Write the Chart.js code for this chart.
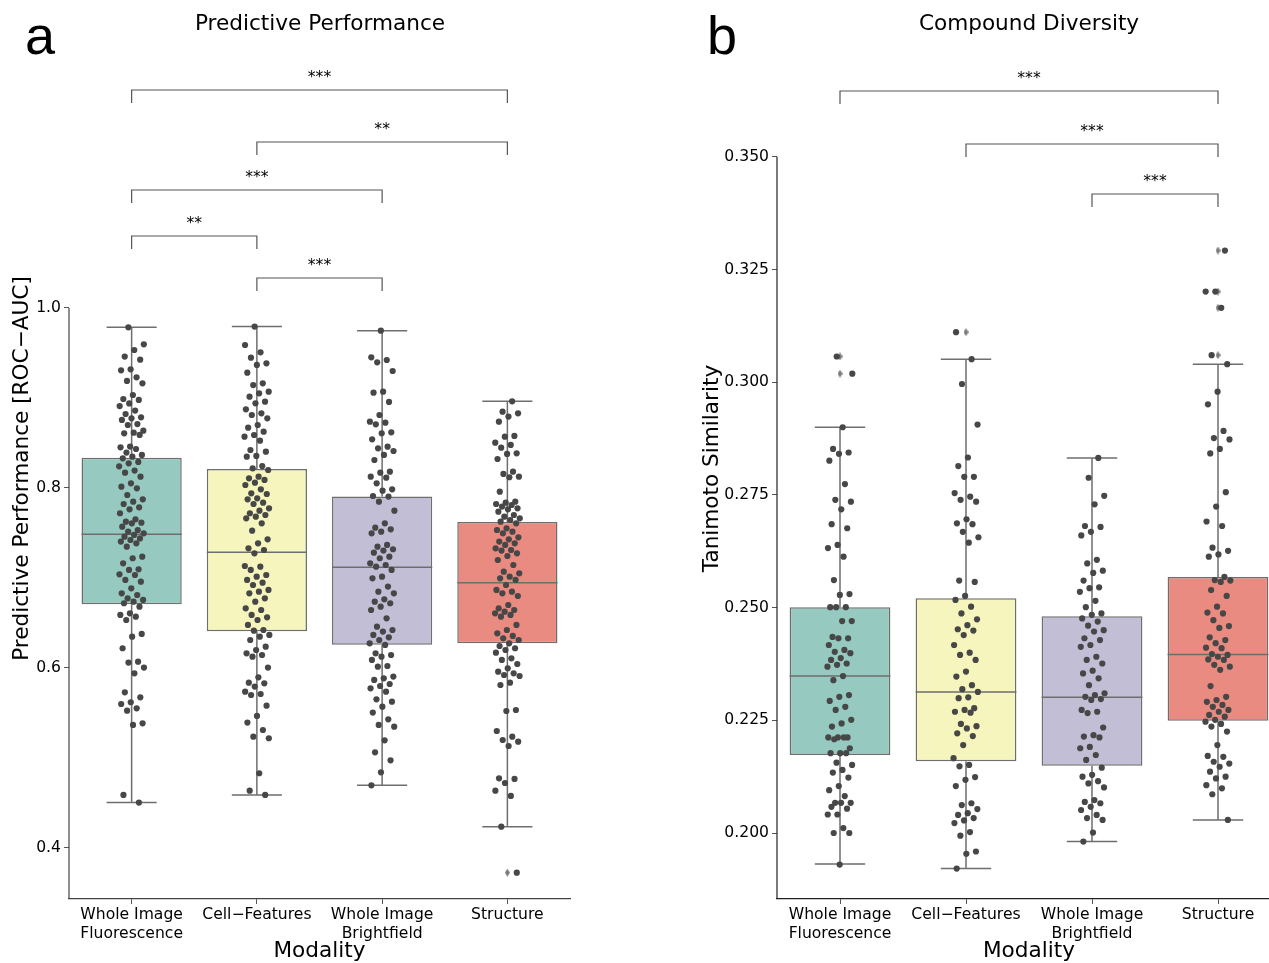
<!DOCTYPE html>
<html>
<head>
<meta charset="utf-8">
<script src="https://cdn.jsdelivr.net/npm/chart.js@4.4.1/dist/chart.umd.min.js"></script>
<style>
	html, body { margin: 0; padding: 0; background: #fff; overflow: hidden; }
	#wrap { position: relative; width: 1269px; height: 963px; overflow: hidden; }
	canvas { position: absolute; top: 0; }
	#panelA { left: 0; }
	#panelB { left: 640px; }
</style>
</head>
<body>
<div id="wrap">
	<canvas id="panelA" width="640" height="963"></canvas>
	<canvas id="panelB" width="778" height="963"></canvas>
</div>
<script type="text/javascript">
	/*jshint esversion: 6 */
	var modalities = [['Whole Image', 'Fluorescence'], 'Cell\u2212Features', ['Whole Image', 'Brightfield'], 'Structure'];

	// ---- a: predictive performance (ROC-AUC) ----
	var aTicks = [0.4, 0.6, 0.8, 1.0];
	var aQ1 = [0.6708, 0.6408, 0.6259, 0.6274];
	var aMedian = [0.7486, 0.7286, 0.7119, 0.6948];
	var aQ3 = [0.8337, 0.8210, 0.7904, 0.7622];
	var aWhiskerLow = [0.4504, 0.4589, 0.4696, 0.4237];
	var aWhiskerHigh = [0.9785, 0.9793, 0.9748, 0.8963];
	var aFlierCat = [3];
	var aFlierVal = [0.3726];

	var aFluorescence = [
		0.9785, 0.9596, 0.9533, 0.946, 0.9426, 0.9319, 0.9307, 0.923, 0.919, 0.9163, 0.9033, 0.8989, 0.8978,
		0.894, 0.891, 0.886, 0.8822, 0.8785, 0.8774, 0.8756, 0.871, 0.87, 0.8637, 0.8615, 0.8607, 0.859, 0.846,
		0.8452, 0.8433, 0.8393, 0.8367, 0.8348, 0.833, 0.829, 0.8274, 0.8241, 0.8193, 0.817, 0.8126, 0.8052,
		0.8015, 0.7996, 0.7922, 0.7874, 0.7848, 0.7822, 0.7785, 0.7763, 0.7719, 0.7652, 0.7626, 0.7615, 0.7607,
		0.757, 0.7533, 0.7515, 0.7496, 0.7478, 0.7459, 0.744, 0.7422, 0.7405, 0.7385, 0.7348, 0.7237, 0.7219,
		0.7163, 0.7096, 0.7089, 0.7041, 0.7033, 0.6978, 0.6959, 0.6885, 0.683, 0.6811, 0.6774, 0.6756, 0.6737,
		0.6719, 0.6681, 0.6607, 0.6589, 0.657, 0.6533, 0.6378, 0.6348, 0.6219, 0.607, 0.606, 0.6004, 0.5941,
		0.573, 0.5674, 0.5619, 0.56, 0.5552, 0.5526, 0.5385, 0.5367, 0.4589, 0.4504
	];
	var aCellFeatures = [
		0.9793, 0.9589, 0.9507, 0.9448, 0.9385, 0.9367, 0.9281, 0.9163, 0.9144, 0.907, 0.9052, 0.9015, 0.8959,
		0.8941, 0.8874, 0.883, 0.8811, 0.8774, 0.87, 0.867, 0.8626, 0.8589, 0.857, 0.8526, 0.8422, 0.8404,
		0.8356, 0.8348, 0.8244, 0.8219, 0.82, 0.8126, 0.8107, 0.8089, 0.8059, 0.8033, 0.7985, 0.7941, 0.7933,
		0.7885, 0.7874, 0.7837, 0.7822, 0.7774, 0.7748, 0.7719, 0.77, 0.7681, 0.7663, 0.7607, 0.7526, 0.743,
		0.7385, 0.733, 0.7311, 0.7274, 0.7133, 0.7126, 0.7089, 0.7033, 0.7015, 0.6978, 0.6948, 0.6922, 0.6867,
		0.6848, 0.683, 0.6774, 0.6737, 0.6663, 0.6644, 0.6589, 0.6563, 0.6533, 0.6478, 0.6422, 0.6415, 0.6367,
		0.6348, 0.6311, 0.6237, 0.62, 0.6163, 0.6144, 0.6126, 0.6004, 0.5896, 0.5837, 0.583, 0.5793, 0.5737,
		0.5711, 0.57, 0.5581, 0.5467, 0.5393, 0.5311, 0.5237, 0.5219, 0.483, 0.4637, 0.4589
	];
	var aBrightfield = [
		0.9748, 0.9452, 0.9422, 0.9396, 0.93, 0.907, 0.9059, 0.8956, 0.8811, 0.8737, 0.8726, 0.8707, 0.8619,
		0.8607, 0.8541, 0.8459, 0.8441, 0.8411, 0.8367, 0.8311, 0.8181, 0.817, 0.8126, 0.8115, 0.8052, 0.7985,
		0.797, 0.7911, 0.7904, 0.7848, 0.7748, 0.7607, 0.7559, 0.7541, 0.7515, 0.7496, 0.7367, 0.7348, 0.7319,
		0.7304, 0.7281, 0.7237, 0.7219, 0.7163, 0.7144, 0.7126, 0.7089, 0.7015, 0.6996, 0.6904, 0.6848, 0.683,
		0.6763, 0.6737, 0.6719, 0.6681, 0.6644, 0.6552, 0.6459, 0.6422, 0.6404, 0.6367, 0.6341, 0.6311, 0.6274,
		0.6256, 0.6163, 0.6144, 0.6126, 0.6089, 0.6022, 0.6015, 0.5904, 0.5885, 0.5867, 0.5822, 0.58, 0.5774,
		0.5737, 0.5652, 0.5626, 0.557, 0.5504, 0.543, 0.5367, 0.5348, 0.5196, 0.5063, 0.4974, 0.4841, 0.4696
	];
	var aStructure = [
		0.8963, 0.8848, 0.883, 0.8793, 0.8737, 0.8578, 0.857, 0.8504, 0.8478, 0.8448, 0.8385, 0.8378, 0.8322,
		0.8181, 0.8156, 0.8126, 0.8119, 0.7959, 0.7848, 0.7837, 0.7822, 0.7811, 0.7793, 0.7774, 0.7763, 0.7737,
		0.77, 0.7681, 0.7663, 0.7644, 0.7626, 0.7607, 0.7552, 0.7533, 0.7515, 0.7496, 0.7452, 0.743, 0.7404,
		0.7385, 0.7367, 0.733, 0.7311, 0.7304, 0.7274, 0.7244, 0.72, 0.7144, 0.707, 0.7052, 0.7015, 0.6996,
		0.6978, 0.6922, 0.6867, 0.6848, 0.683, 0.68, 0.67, 0.6663, 0.6644, 0.6626, 0.6607, 0.6589, 0.657, 0.6478,
		0.6422, 0.6385, 0.6356, 0.633, 0.6311, 0.6274, 0.6244, 0.6219, 0.62, 0.617, 0.6107, 0.6089, 0.6044,
		0.5996, 0.5959, 0.5941, 0.5922, 0.5911, 0.5837, 0.5811, 0.5533, 0.5522, 0.53, 0.5237, 0.52, 0.5181,
		0.5133, 0.4774, 0.4767, 0.4722, 0.4637, 0.4578, 0.4237, 0.3726
	];
	var aSigFrom = [0, 1, 0, 0, 1];
	var aSigTo = [3, 3, 2, 1, 2];
	var aSigLabel = ['***', '**', '***', '**', '***'];

	// ---- b: compound diversity (Tanimoto) ----
	var bTicks = [0.200, 0.225, 0.250, 0.275, 0.300, 0.325, 0.350];
	var bQ1 = [0.2173, 0.2159, 0.2149, 0.2249];
	var bMedian = [0.2348, 0.2313, 0.2301, 0.2396];
	var bQ3 = [0.2501, 0.2521, 0.2481, 0.2568];
	var bWhiskerLow = [0.1931, 0.1921, 0.1981, 0.2029];
	var bWhiskerHigh = [0.2900, 0.3051, 0.2832, 0.3040];
	var bFlierCat = [0, 0, 1, 3, 3, 3, 3];
	var bFlierVal = [0.3057, 0.3019, 0.3111, 0.3292, 0.3201, 0.3165, 0.3060];

	var bFluorescence = [
		0.3057, 0.3019, 0.29, 0.2852, 0.2844, 0.2841, 0.2826, 0.2774, 0.2739, 0.2735, 0.2718, 0.2685, 0.2676,
		0.2639, 0.2632, 0.2613, 0.2561, 0.253, 0.2528, 0.2501, 0.2501, 0.2501, 0.247, 0.247, 0.2435, 0.2432,
		0.2432, 0.2417, 0.2406, 0.2402, 0.2399, 0.2388, 0.2384, 0.2376, 0.2373, 0.2369, 0.2348, 0.2339, 0.2306,
		0.2302, 0.2293, 0.228, 0.2273, 0.2251, 0.2243, 0.2236, 0.2212, 0.2212, 0.2212, 0.2212, 0.2208, 0.2188,
		0.2177, 0.2177, 0.2177, 0.2156, 0.2151, 0.214, 0.2134, 0.2123, 0.2104, 0.2095, 0.2082, 0.2067, 0.2067,
		0.2067, 0.2058, 0.2054, 0.2041, 0.2041, 0.2011, 0.2, 0.2, 0.193
	];
	var bCellFeatures = [
		0.3111, 0.3051, 0.2996, 0.2906, 0.2833, 0.2814, 0.279, 0.279, 0.2754, 0.2746, 0.2739, 0.2735, 0.2696,
		0.2687, 0.2685, 0.2668, 0.2656, 0.2644, 0.256, 0.2557, 0.2526, 0.2517, 0.2502, 0.2487, 0.2474, 0.2461,
		0.2452, 0.2449, 0.2439, 0.2417, 0.24, 0.2395, 0.2384, 0.2358, 0.2347, 0.2328, 0.2319, 0.2313, 0.2301,
		0.2299, 0.2277, 0.2273, 0.2269, 0.2267, 0.2242, 0.2237, 0.2232, 0.2221, 0.2215, 0.2195, 0.2166, 0.2151,
		0.2148, 0.2124, 0.2118, 0.2104, 0.2066, 0.2062, 0.2053, 0.2044, 0.204, 0.2033, 0.2028, 0.2022, 0.2002,
		0.1994, 0.1959, 0.1954, 0.1921
	];
	var bBrightfield = [
		0.2832, 0.2788, 0.2748, 0.2729, 0.2681, 0.2679, 0.2668, 0.266, 0.2606, 0.2598, 0.2582, 0.2577, 0.256,
		0.2545, 0.2543, 0.2535, 0.2515, 0.2501, 0.2487, 0.2484, 0.2476, 0.2469, 0.246, 0.245, 0.2447, 0.2432,
		0.2428, 0.2417, 0.2413, 0.2391, 0.2384, 0.2376, 0.236, 0.2354, 0.2343, 0.2328, 0.231, 0.2306, 0.2302,
		0.2297, 0.2295, 0.2273, 0.2269, 0.2266, 0.2234, 0.2217, 0.2214, 0.2212, 0.2191, 0.2188, 0.2173, 0.2162,
		0.2145, 0.2129, 0.2125, 0.2115, 0.211, 0.2101, 0.2073, 0.2069, 0.2066, 0.2058, 0.2051, 0.204, 0.2033,
		0.2029, 0.2001, 0.1981
	];
	var bStructure = [
		0.3292, 0.3201, 0.3201, 0.3165, 0.306, 0.304, 0.2979, 0.2951, 0.2892, 0.2876, 0.2873, 0.2852, 0.2842,
		0.2756, 0.2724, 0.2691, 0.2681, 0.2633, 0.2626, 0.2618, 0.2613, 0.2568, 0.2561, 0.256, 0.2557, 0.2539,
		0.2526, 0.2502, 0.2489, 0.2487, 0.2472, 0.2459, 0.2455, 0.2434, 0.2428, 0.2421, 0.2411, 0.241, 0.2397,
		0.2395, 0.2391, 0.2385, 0.2384, 0.2373, 0.2369, 0.2362, 0.2326, 0.2302, 0.2295, 0.2291, 0.2284, 0.228,
		0.2273, 0.2269, 0.2262, 0.2258, 0.2251, 0.2247, 0.2242, 0.2236, 0.2225, 0.2195, 0.2171, 0.2169, 0.2158,
		0.2154, 0.2147, 0.2136, 0.2125, 0.2121, 0.2106, 0.2099, 0.2086, 0.2029
	];
	var bSigFrom = [0, 1, 2];
	var bSigTo = [3, 3, 3];
	var bSigLabel = ['***', '***', '***'];

	var boxColors = ['#96c9bf', '#f5f5bd', '#c1bed6', '#e98b80'];
	var lineGray = '#6e6e6e';
	var dotColor = '#474747';
	var FONT = 'DejaVu Sans';

	Chart.defaults.font.family = FONT;
	Chart.defaults.color = '#000';

	// golden-ratio jitter, like seaborn's stripplot spread (+/- 0.1 category)
	function jitter(k) {
		return (((k * 0.6180339887 + 0.37) % 1) - 0.5) * 0.2;
	}

	function diamondMarker() {
		var c = document.createElement('canvas');
		c.width = 5;
		c.height = 8;
		var g = c.getContext('2d');
		g.fillStyle = '#7a7a7a';
		g.beginPath();
		g.moveTo(2.5, 0); g.lineTo(5, 4); g.lineTo(2.5, 8); g.lineTo(0, 4);
		g.closePath();
		g.fill();
		return c;
	}

	var panelDecor = {
		id: 'panelDecor',
		afterDraw: function(chart, args, opts) {
			var ctx = chart.ctx;
			var area = chart.chartArea;
			var x = chart.scales.x;
			var y = chart.scales.y;
			ctx.save();

			// y axis spine only over the data range
			ctx.strokeStyle = opts.spineColor;
			ctx.lineWidth = 1.2;
			ctx.beginPath();
			ctx.moveTo(area.left, y.getPixelForValue(opts.spineTop));
			ctx.lineTo(area.left, area.bottom);
			ctx.stroke();

			// significance brackets
			ctx.strokeStyle = '#555';
			ctx.lineWidth = 1.2;
			ctx.fillStyle = '#000';
			ctx.font = '15.6px "' + FONT + '"';
			ctx.textAlign = 'center';
			ctx.textBaseline = 'alphabetic';
			for (var i = 0; i < opts.from.length; i++) {
				var xa = x.getPixelForValue(opts.from[i]);
				var xb = x.getPixelForValue(opts.to[i]);
				var yl = area.top + opts.offsets[i];
				ctx.beginPath();
				ctx.moveTo(xa, yl + 13);
				ctx.lineTo(xa, yl);
				ctx.lineTo(xb, yl);
				ctx.lineTo(xb, yl + 13);
				ctx.stroke();
				ctx.fillText(opts.labels[i], (xa + xb) / 2, yl - 8);
			}

			// panel letter
			ctx.font = '54px "Liberation Sans"';
			ctx.textAlign = 'left';
			ctx.fillText(opts.letter, opts.letterX, 54);
			ctx.restore();
		}
	};

	function makePanel(canvasId, p) {
		var pts = [];
		var k = 0;
		p.points.forEach(function(list, i) {
			list.forEach(function(v) {
				pts.push({x: i + jitter(k++), y: v});
			});
		});

		var whiskers = [];
		var medians = [];
		var boxes = [];
		for (var i = 0; i < p.q1.length; i++) {
			whiskers.push(
				{x: i - 0.2, y: p.hi[i]}, {x: i + 0.2, y: p.hi[i]}, {x: i, y: null},
				{x: i, y: p.hi[i]}, {x: i, y: p.q3[i]}, {x: i, y: null},
				{x: i, y: p.q1[i]}, {x: i, y: p.lo[i]}, {x: i, y: null},
				{x: i - 0.2, y: p.lo[i]}, {x: i + 0.2, y: p.lo[i]}, {x: i, y: null}
			);
			medians.push({x: i - 0.4, y: p.med[i]}, {x: i + 0.4, y: p.med[i]}, {x: i, y: null});
			boxes.push({x: i, y: [p.q1[i], p.q3[i]]});
		}

		var fliers = p.flierCat.map(function(c, j) {
			return {x: c, y: p.flierVal[j]};
		});

		return new Chart(document.getElementById(canvasId).getContext('2d'), {
			type: 'bar',
			data: {
				datasets: [{
					type: 'scatter',
					data: pts,
					backgroundColor: dotColor,
					borderWidth: 0,
					pointRadius: 3.1,
					pointHoverRadius: 3.1,
					order: 0
				}, {
					type: 'scatter',
					data: fliers,
					pointStyle: diamondMarker(),
					pointRadius: 3,
					order: 1
				}, {
					type: 'line',
					data: medians,
					borderColor: lineGray,
					borderWidth: 1.5,
					pointRadius: 0,
					spanGaps: false,
					order: 2
				}, {
					type: 'bar',
					data: boxes,
					backgroundColor: boxColors,
					borderColor: lineGray,
					borderWidth: 1.5,
					borderSkipped: false,
					barPercentage: 0.8,
					categoryPercentage: 1.0,
					order: 3
				}, {
					type: 'line',
					data: whiskers,
					borderColor: lineGray,
					borderWidth: 1.5,
					pointRadius: 0,
					spanGaps: false,
					order: 4
				}]
			},
			options: {
				responsive: false,
				animation: false,
				events: [],
				layout: {padding: 0},
				plugins: {
					legend: {display: false},
					tooltip: {enabled: false},
					title: {
						display: true,
						text: p.title,
						color: '#000',
						font: {size: 21.6, weight: 'normal', lineHeight: 1.1},
						padding: {top: 13, bottom: 1.24}
					},
					panelDecor: {
						from: p.sigFrom,
						to: p.sigTo,
						labels: p.sigLabel,
						offsets: p.sigOffsets,
						spineTop: p.ticks[p.ticks.length - 1],
						spineColor: p.spineColor,
						letter: p.letter,
						letterX: p.letterX
					}
				},
				scales: {
					x: {
						type: 'linear',
						min: -0.5,
						max: 3.5,
						offset: false,
						afterBuildTicks: function(s) {
							s.ticks = modalities.map(function(m, i) { return {value: i}; });
						},
						grid: {display: true, drawOnChartArea: false, offset: false, tickLength: 5, color: '#555'},
						border: {display: true, color: p.spineColor, width: 1.2},
						ticks: {
							color: '#000',
							font: {size: 15.6},
							padding: 2,
							maxRotation: 0,
							autoSkip: false,
							callback: function(v) { return modalities[v]; }
						},
						title: {display: true, text: 'Modality', color: '#000', font: {size: 21.6, lineHeight: 1.1}, padding: 0},
						afterFit: function(s) { s.height = 64; }
					},
					y: {
						type: 'linear',
						position: 'left',
						min: p.yMin,
						max: p.yMax,
						afterBuildTicks: function(s) {
							s.ticks = p.ticks.map(function(v) { return {value: v}; });
						},
						grid: {display: true, drawOnChartArea: false, tickLength: 5, color: '#555'},
						border: {display: false},
						ticks: {
							color: '#000',
							font: {size: 15.6},
							padding: 3,
							callback: function(v) { return v.toFixed(p.decimals); }
						},
						title: {display: true, text: p.yTitle, color: '#000', font: {size: 21.6}, padding: {top: p.yTitlePad, bottom: 0}},
						afterFit: function(s) { s.width = p.leftWidth; }
					},
					yr: {
						type: 'linear',
						position: 'right',
						grid: {display: false},
						border: {display: false},
						ticks: {display: false},
						afterFit: function(s) { s.width = p.rightWidth; }
					}
				}
			},
			plugins: [panelDecor]
		});
	}

	makePanel('panelA', {
		title: 'Predictive Performance',
		yTitle: 'Predictive Performance [ROC\u2212AUC]',
		letter: 'a', letterX: 25,
		points: [aFluorescence, aCellFeatures, aBrightfield, aStructure],
		q1: aQ1, med: aMedian, q3: aQ3, lo: aWhiskerLow, hi: aWhiskerHigh,
		flierCat: aFlierCat, flierVal: aFlierVal,
		sigFrom: aSigFrom, sigTo: aSigTo, sigLabel: aSigLabel,
		sigOffsets: [52, 104, 152, 198, 240],
		ticks: aTicks, decimals: 1,
		yMin: 0.3433, yMax: 1.3,
		leftWidth: 69, rightWidth: 70, yTitlePad: 9,
		spineColor: '#444'
	});

	makePanel('panelB', {
		title: 'Compound Diversity',
		yTitle: 'Tanimoto Similarity',
		letter: 'b', letterX: 67,
		points: [bFluorescence, bCellFeatures, bBrightfield, bStructure],
		q1: bQ1, med: bMedian, q3: bQ3, lo: bWhiskerLow, hi: bWhiskerHigh,
		flierCat: bFlierCat, flierVal: bFlierVal,
		sigFrom: bSigFrom, sigTo: bSigTo, sigLabel: bSigLabel,
		sigOffsets: [53, 106, 156],
		ticks: bTicks, decimals: 3,
		yMin: 0.18536, yMax: 0.37635,
		leftWidth: 137, rightWidth: 137, yTitlePad: 59,
		spineColor: '#222'
	});
</script>
</body>
</html>
